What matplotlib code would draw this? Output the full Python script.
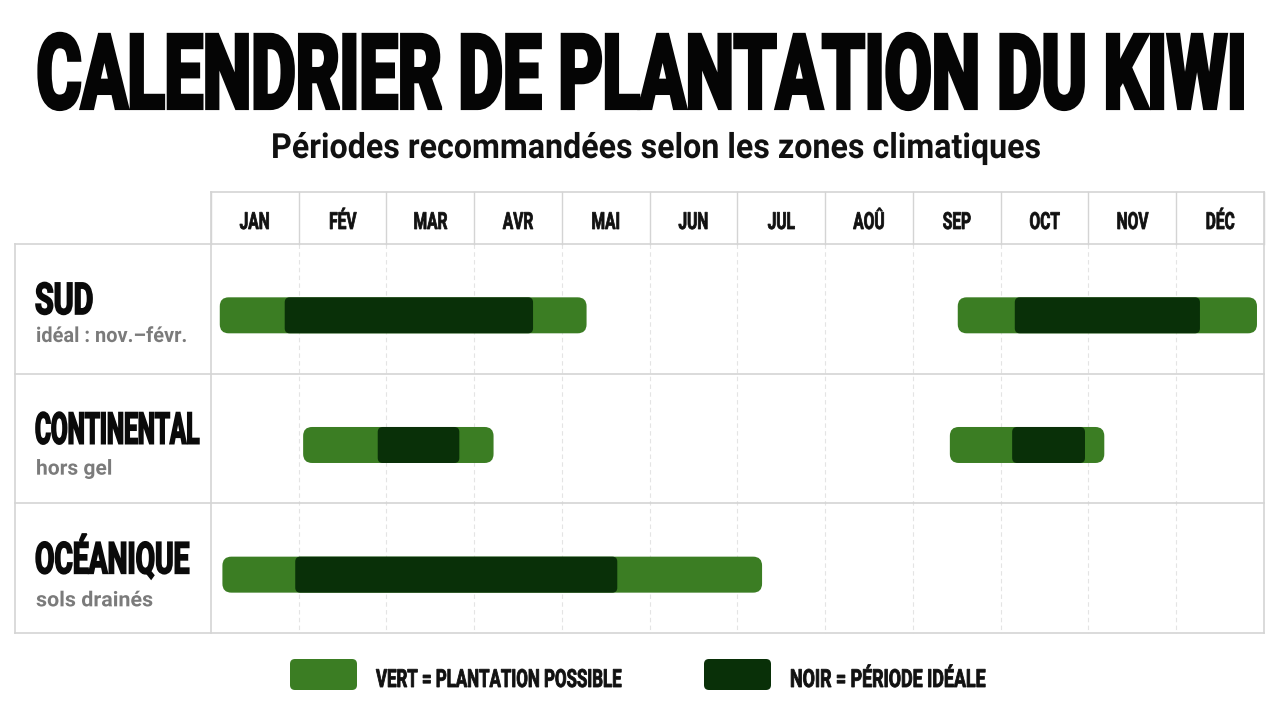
import numpy as np
import matplotlib
matplotlib.use('Agg')
import matplotlib.pyplot as plt
from matplotlib.patches import FancyBboxPatch
from matplotlib.patheffects import AbstractPathEffect
from matplotlib.transforms import Affine2D, Bbox

# data
months = ['JAN', 'FÉV', 'MAR', 'AVR', 'MAI', 'JUN', 'JUL', 'AOÛ', 'SEP', 'OCT', 'NOV', 'DÉC']
zones = ['SUD', 'CONTINENTAL', 'OCÉANIQUE']
notes = ['idéal : nov.–févr.', 'hors gel', 'sols drainés']
# periods in months (0 = start of january, 12 = end of december)
possible_start = [[0.10, 8.51], [1.05, 8.42], [0.13]]
possible_end = [[4.28, 11.92], [3.22, 10.18], [6.28]]
ideal_start = [[0.84, 9.16], [1.90, 9.13], [0.96]]
ideal_end = [[3.67, 11.27], [2.83, 9.96], [4.63]]
legend_labels = ['VERT = PLANTATION POSSIBLE', 'NOIR = PÉRIODE IDÉALE']

GREEN = '#3b7d23'
DARK = '#093008'
LINE = '#d4d4d4'
FONT = ['Roboto', 'DejaVu Sans']

W, H = 1280, 720
LABEL_W = 196 / 87.75   # label column width in month units
HEAD = 52 / 129.67      # header height in row units


class Squeeze(AbstractPathEffect):
    # rescale glyphs (condensed look) and thicken them with a stroke
    def __init__(self, sx, sy=1.0, ha='left', lw=0.0):
        super().__init__()
        self.sx, self.sy, self.ha, self.lw = sx, sy, ha, lw

    def draw_path(self, renderer, gc, tpath, affine, rgbFace=None):
        ext = tpath.get_extents()
        dx = 0
        if self.ha == 'center':
            dx = (1 - self.sx) * (ext.x0 + ext.x1) / 2
        elif self.ha == 'right':
            dx = (1 - self.sx) * ext.x1
        tr = Affine2D().scale(self.sx, self.sy).translate(dx, 0) + affine
        gc0 = renderer.new_gc()
        gc0.copy_properties(gc)
        if self.lw > 0:
            gc0.set_linewidth(self.lw)
            gc0.set_foreground(rgbFace)
            gc0.set_joinstyle('miter')
        renderer.draw_path(gc0, tpath, tr, rgbFace)
        gc0.restore()


fig = plt.figure(figsize=(W / 100, H / 100), dpi=100)
fig.patch.set_facecolor('white')
renderer = fig.canvas.get_renderer()


def narrow(t, width=None, sx=0.66, sy=1.0, lw=0.0):
    orig = t.get_window_extent
    if width is not None:
        sx = (width - lw * 100 / 72) / orig(renderer).width
    ha = t.get_ha()
    t.set_path_effects([Squeeze(sx, sy, ha, lw)])

    # keep the reported box in line with what is drawn
    def extent(renderer=None, dpi=None):
        bb = orig(renderer, dpi)
        w = bb.width * sx
        x0 = bb.x0 + (bb.width - w) / 2 if ha == 'center' else bb.x0
        return Bbox.from_extents(x0, bb.y0, x0 + w, bb.y1)
    t.get_window_extent = extent
    return sx


# overlay in pixel coords for titles + legend
lax = fig.add_axes([0, 0, 1, 1])
lax.set_xlim(0, W)
lax.set_ylim(H, 0)
lax.axis('off')

# table axes
ax = fig.add_axes([15 / W, 1 - 633 / H, (1264 - 15) / W, (633 - 192) / H])
ax.set_xlim(-LABEL_W, 12)
ax.set_ylim(3, -HEAD)
ax.axis('off')

p0 = ax.transData.transform((0, 0))
p1 = ax.transData.transform((1, 1))
ppx = abs(p1[0] - p0[0])
ppy = abs(p1[1] - p0[1])

# grid
for m in range(1, 12):
    ax.plot([m, m], [0, 3], color='#e4e4e4', lw=0.8, ls=(0, (4, 3)), clip_on=False, zorder=1)
for m in range(0, 13):
    ax.plot([m, m], [-HEAD, 0], color=LINE, lw=1, clip_on=False, zorder=1)
for m in [0, 12]:
    ax.plot([m, m], [-HEAD, 3], color=LINE, lw=1.2, clip_on=False, zorder=1)
ax.plot([-LABEL_W, -LABEL_W], [0, 3], color=LINE, lw=1.2, clip_on=False, zorder=1)
ax.plot([0, 12], [-HEAD, -HEAD], color=LINE, lw=1.2, clip_on=False, zorder=1)
for r in range(4):
    ax.plot([-LABEL_W, 12], [r, r], color=LINE, lw=1.2, clip_on=False, zorder=1)

# month headers (same squeeze for all, taken from MAR)
mt = []
for i, mo in enumerate(months):
    t = ax.text(i + 0.5, -HEAD + 37 / ppy, mo, ha='center', va='baseline',
                fontsize=17, weight='bold', family=FONT, color='#111111')
    mt.append(t)
msx = 34 / mt[2].get_window_extent(renderer).width
for t in mt:
    narrow(t, sx=msx, lw=0.55)


def pill(x0, x1, yc, h, r_px, color, z):
    r = r_px / ppx
    box = FancyBboxPatch((x0, yc - h / 2), x1 - x0, h,
                         boxstyle=f'round,pad=0,rounding_size={r}',
                         mutation_aspect=ppx / ppy,
                         fc=color, ec='none', zorder=z)
    ax.add_patch(box)


bar_h = 36 / ppy
for i in range(len(zones)):
    yc = i + 0.55
    for s, e in zip(possible_start[i], possible_end[i]):
        pill(s, e, yc, bar_h, 9, GREEN, 3)
    for s, e in zip(ideal_start[i], ideal_end[i]):
        pill(s, e, yc, bar_h, 5, DARK, 4)

# zone labels
zone_w = [60, 166, 156]
note_w = [152, 77, 118]
note_dy = [98, 101, 103]
for i, (z, n) in enumerate(zip(zones, notes)):
    t = ax.text(-LABEL_W + 20 / ppx, i + 70 / ppy, z, ha='left', va='baseline',
                fontsize=31.5, weight='bold', family=FONT, color='#0a0a0a')
    narrow(t, width=zone_w[i], lw=1.2)
    t = ax.text(-LABEL_W + 21 / ppx, i + note_dy[i] / ppy, n, ha='left', va='baseline',
                fontsize=15, weight='bold', family=FONT, color='#7b7b7b')
    narrow(t, width=note_w[i])

# titles (drawn at 46pt, stretched up to the big poster size)
t = lax.text(641, 108, 'CALENDRIER DE PLANTATION DU KIWI', ha='center', va='baseline',
             fontsize=46, weight='bold', family=FONT, color='#050505')
narrow(t, width=1213, sy=74 / 46, lw=3.0)
t = lax.text(656, 158, 'Périodes recommandées selon les zones climatiques', ha='center',
             va='baseline', fontsize=25, weight='bold', family=FONT, color='#111111')
narrow(t, width=770)

# legend
sw_x = [290, 704]
txt_x = [376, 790]
txt_w = [247, 197]
for k, col in enumerate([GREEN, DARK]):
    lax.add_patch(FancyBboxPatch((sw_x[k], 659), 67, 31,
                                 boxstyle='round,pad=0,rounding_size=5',
                                 fc=col, ec='none'))
    t = lax.text(txt_x[k], 687, legend_labels[k], ha='left', va='baseline',
                 fontsize=18, weight='bold', family=FONT, color='#111111')
    narrow(t, width=txt_w[k], lw=0.6)

fig.savefig('out.png', dpi=100, facecolor='white')
